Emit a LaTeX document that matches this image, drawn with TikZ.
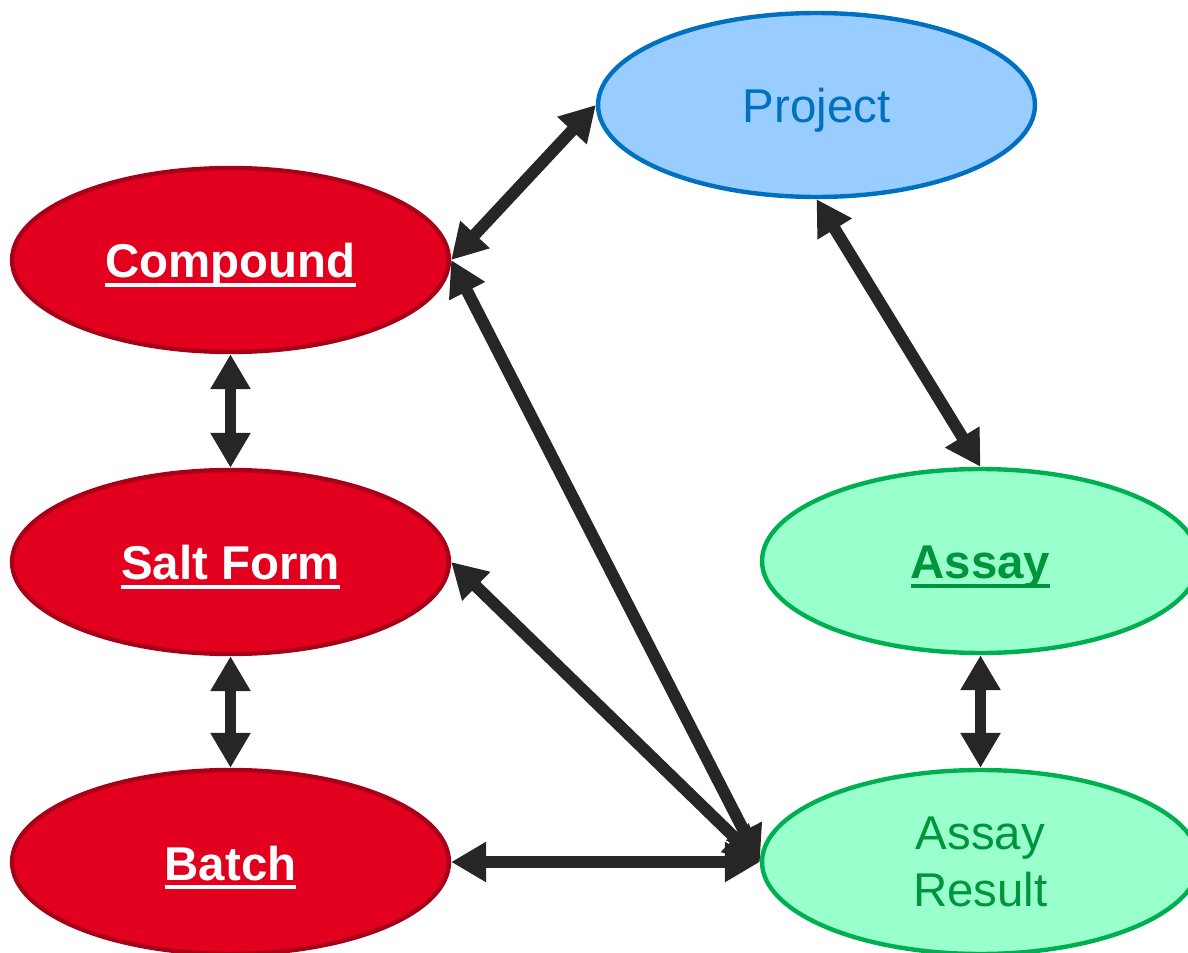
\documentclass[tikz,border=0pt]{standalone}
\usepackage{fontspec}
\setmainfont{Liberation Sans}
\usetikzlibrary{shapes.geometric,arrows.meta}

\definecolor{redfill}{HTML}{E3001E}
\definecolor{redline}{HTML}{A80018}
\definecolor{bluefill}{HTML}{99CCFF}
\definecolor{blueline}{HTML}{0070C0}
\definecolor{greenfill}{HTML}{99FFCC}
\definecolor{greenline}{HTML}{00B050}
\definecolor{greentext}{HTML}{00953C}
\definecolor{linkgray}{HTML}{262626}

% thick underline set just below the descenders
\newcommand\keyword[1]{\setbox0\hbox{#1}\rlap{\rule[-0.2em]{\wd0}{0.095em}}\box0}

\tikzset{
  entity/.style={ellipse, inner sep=0pt, minimum width=8.74cm, minimum height=3.68cm,
    line width=2.5pt, font=\fontsize{27}{32}\selectfont, align=center},
  oneline/.style={text height=0.92cm, text depth=0.2cm},
  keyent/.style={entity, oneline, fill=redfill, draw=redline, text=white,
    font=\fontsize{27}{32}\selectfont\bfseries},
  projent/.style={entity, oneline, fill=bluefill, draw=blueline, text=blueline},
  assayent/.style={entity, fill=greenfill, draw=greenline, text=greentext},
  link/.style={draw=linkgray, line width=6.8pt,
    {Triangle[length=0.7cm,width=0.76cm]}-{Triangle[length=0.7cm,width=0.76cm]}}
}

\begin{document}
\begin{tikzpicture}[x=0.02cm, y=-0.02cm]
  \useasboundingbox (0,0) rectangle (1188,953);
  \clip (0,0) rectangle (1188,953);

  % entities
  \node[keyent]   (compound) at (230.5,260) {\keyword{Compound}};
  \node[keyent]   (salt)     at (230.5,562) {\keyword{Salt Form}};
  \node[keyent]   (batch)    at (230.5,862) {\keyword{Batch}};
  \node[projent]  (project)  at (816.5,105) {Project};
  \node[assayent, oneline, font=\fontsize{27}{32}\selectfont\bfseries]
                  (assay)    at (980.5,561) {\keyword{Assay}};
  \node[assayent] (result)   at (980.5,862) {Assay\\Result};

  % relationships
  \draw[link] (compound.east)  -- (project.west);
  \draw[link] (compound.south) -- (salt.north);
  \draw[link] (salt.south)     -- (batch.north);
  \draw[link] (project.south)  -- (assay.north);
  \draw[link] (assay.south)    -- (result.north);
  \draw[link] (batch.east)     -- (result.west);
  \draw[link] (compound.east)  -- (result.west);
  \draw[link] (salt.east)      -- (result.west);
\end{tikzpicture}
\end{document}
